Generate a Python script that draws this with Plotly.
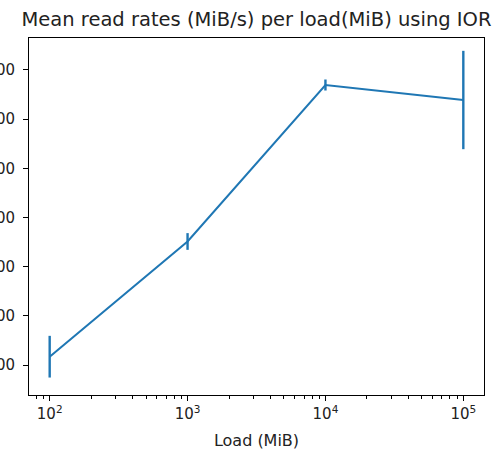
import plotly.graph_objects as go

# Mean read rates measured with IOR for each load size
loads_mib = [100, 1000, 10000, 100000]
mean_rates = [1169, 3512, 6694, 6389]
rate_errors = [424, 170, 112, 1000]

y_ticks = [1000, 2000, 3000, 4000, 5000, 6000, 7000]
x_ticks = [100, 1000, 10000, 100000]
x_tick_text = ["10<sup>2</sup>", "10<sup>3</sup>", "10<sup>4</sup>", "10<sup>5</sup>"]

minor_x = [m * 10 ** e for e in range(1, 6) for m in range(2, 10)]

blue = "#1f77b4"
font = "DejaVu Sans"
text_color = "#222"

fig = go.Figure(
    go.Scatter(
        x=loads_mib,
        y=mean_rates,
        mode="lines",
        line=dict(color=blue, width=2),
        error_y=dict(type="data", array=rate_errors, color=blue, thickness=2.4, width=0),
        showlegend=False,
    )
)

axis_common = dict(
    showline=True,
    linecolor="black",
    linewidth=1,
    mirror=True,
    ticks="outside",
    ticklen=5,
    tickwidth=1,
    tickcolor="black",
    showgrid=False,
    zeroline=False,
    automargin=False,
    tickfont=dict(family=font, size=15, color=text_color),
)

fig.update_layout(
    template="none",
    width=503,
    height=456,
    margin=dict(l=29, r=19, t=38, b=61),
    paper_bgcolor="white",
    plot_bgcolor="white",
    title=dict(
        text="Mean read rates (MiB/s) per load(MiB) using IOR",
        x=(29 + 484) / 2 / 503,
        xanchor="center",
        y=1 - 19 / 456,
        yanchor="middle",
        font=dict(family=font, size=19.5, color=text_color),
    ),
    xaxis=dict(
        type="log",
        range=[1.85, 5.15],
        tickvals=x_ticks,
        ticktext=x_tick_text,
        minor=dict(tickvals=minor_x, ticks="outside", ticklen=3, tickcolor="black", tickwidth=0.8, showgrid=False),
        title=dict(text="Load (MiB)", font=dict(family=font, size=16, color=text_color), standoff=12),
        **axis_common,
    ),
    yaxis=dict(
        range=[390, 7650],
        tickvals=y_ticks,
        ticktext=[str(v) for v in y_ticks],
        ticklabelstandoff=5,
        **axis_common,
    ),
)

fig.write_html("out.html")
